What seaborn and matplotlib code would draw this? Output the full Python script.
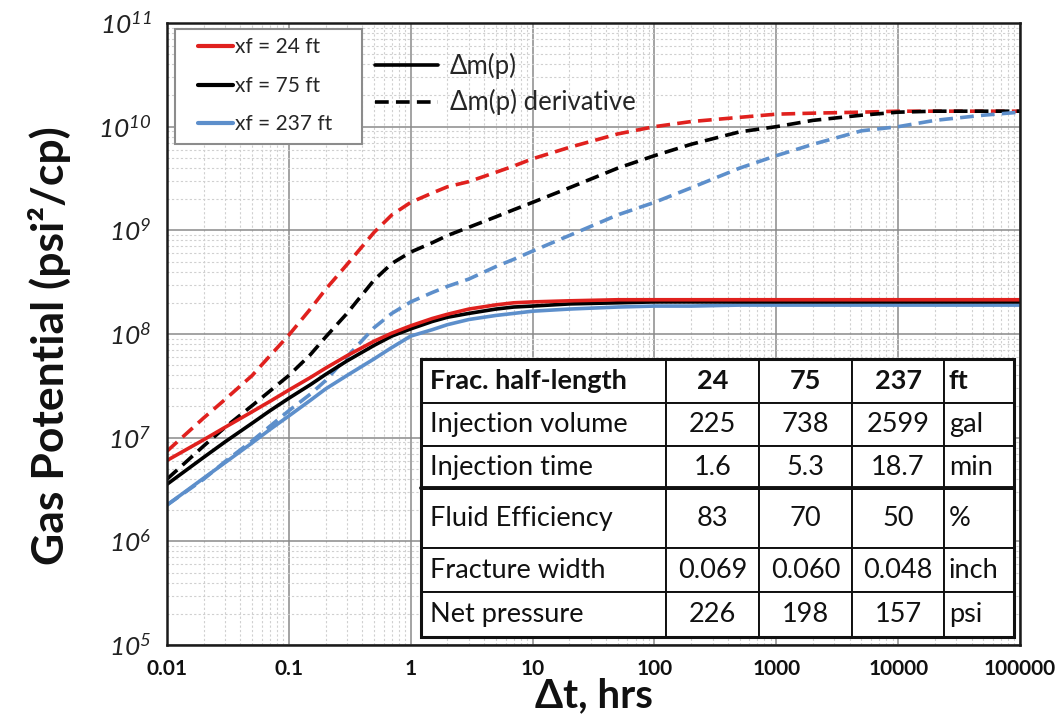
import numpy as np
import pandas as pd
import matplotlib
matplotlib.use("Agg")
import matplotlib.pyplot as plt
import matplotlib.ticker as mticker
from matplotlib.lines import Line2D
from matplotlib.patches import Rectangle
import seaborn as sns

# ---------------- data ----------------
dt_hrs = [0.01, 0.02, 0.03, 0.05, 0.07, 0.1, 0.15, 0.2, 0.3, 0.5, 0.7, 1, 1.5, 2, 3, 5, 7, 10,
          20, 50, 100, 200, 500, 1000, 2000, 5000, 1e4, 2e4, 5e4, 1e5]

mp_xf24 = [6.03e6, 9.55e6, 1.26e7, 1.78e7, 2.24e7, 2.88e7, 3.80e7, 4.68e7, 6.17e7, 8.51e7,
           1.02e8, 1.20e8, 1.41e8, 1.55e8, 1.74e8, 1.91e8, 2.00e8, 2.04e8, 2.09e8, 2.14e8,
           2.14e8, 2.14e8, 2.14e8, 2.14e8, 2.14e8, 2.14e8, 2.14e8, 2.14e8, 2.14e8, 2.14e8]
mp_xf75 = [3.55e6, 6.46e6, 9.12e6, 1.38e7, 1.82e7, 2.40e7, 3.24e7, 4.07e7, 5.50e7, 7.76e7,
           9.55e7, 1.12e8, 1.32e8, 1.45e8, 1.58e8, 1.74e8, 1.82e8, 1.86e8, 1.95e8, 2.00e8,
           2.04e8, 2.04e8, 2.04e8, 2.04e8, 2.04e8, 2.04e8, 2.04e8, 2.04e8, 2.04e8, 2.04e8]
mp_xf237 = [2.24e6, 4.07e6, 5.75e6, 8.91e6, 1.20e7, 1.62e7, 2.29e7, 2.95e7, 3.98e7, 5.75e7,
            7.41e7, 9.55e7, 1.10e8, 1.23e8, 1.38e8, 1.51e8, 1.58e8, 1.66e8, 1.74e8, 1.82e8,
            1.86e8, 1.86e8, 1.90e8, 1.90e8, 1.90e8, 1.90e8, 1.90e8, 1.90e8, 1.90e8, 1.90e8]

der_xf24 = [7.41e6, 1.55e7, 2.34e7, 3.98e7, 6.17e7, 9.77e7, 1.74e8, 2.69e8, 4.68e8, 9.55e8,
            1.41e9, 1.86e9, 2.29e9, 2.63e9, 2.95e9, 3.63e9, 4.17e9, 4.90e9, 6.31e9, 8.51e9,
            1.00e10, 1.12e10, 1.23e10, 1.32e10, 1.35e10, 1.38e10, 1.41e10, 1.41e10, 1.41e10, 1.41e10]
der_xf75 = [3.98e6, 8.32e6, 1.26e7, 2.04e7, 2.82e7, 3.98e7, 6.31e7, 9.33e7, 1.58e8, 3.31e8,
            4.79e8, 6.17e8, 7.59e8, 8.91e8, 1.07e9, 1.35e9, 1.58e9, 1.86e9, 2.57e9, 3.98e9,
            5.25e9, 6.76e9, 8.91e9, 1.00e10, 1.15e10, 1.29e10, 1.38e10, 1.41e10, 1.41e10, 1.41e10]
der_xf237 = [2.24e6, 3.98e6, 5.89e6, 9.33e6, 1.29e7, 1.82e7, 2.63e7, 3.55e7, 6.03e7, 1.15e8,
             1.58e8, 2.04e8, 2.51e8, 2.88e8, 3.39e8, 4.47e8, 5.25e8, 6.31e8, 8.91e8, 1.41e9,
             1.86e9, 2.57e9, 3.98e9, 5.25e9, 6.76e9, 9.12e9, 1.00e10, 1.15e10, 1.29e10, 1.38e10]

xf_labels = ["xf = 24 ft", "xf = 75 ft", "xf = 237 ft"]
kind_labels = ["\u0394m(p)", "\u0394m(p) derivative"]
colors = ["#E0211E", "#000000", "#5D8FCB"]

xtick_vals = [0.01, 0.1, 1, 10, 100, 1000, 10000, 100000]
xtick_labels = ["0.01", "0.1", "1", "10", "100", "1000", "10000", "100000"]
ytick_vals = [1e5, 1e6, 1e7, 1e8, 1e9, 1e10, 1e11]
ytick_labels = [r"$10^{5}$", r"$10^{6}$", r"$10^{7}$", r"$10^{8}$",
                r"$10^{9}$", r"$10^{10}$", r"$10^{11}$"]

table_rows = [
    ["Frac. half-length", "24", "75", "237", "ft"],
    ["Injection volume", "225", "738", "2599", "gal"],
    ["Injection time", "1.6", "5.3", "18.7", "min"],
    ["Fluid Efficiency", "83", "70", "50", "%"],
    ["Fracture width", "0.069", "0.060", "0.048", "inch"],
    ["Net pressure", "226", "198", "157", "psi"],
]

x_label = "\u0394t, hrs"
y_label = "Gas Potential (psi\u00b2/cp)"

# ---------------- long table ----------------
frames = []
for lab, sol, der in zip(xf_labels, [mp_xf24, mp_xf75, mp_xf237], [der_xf24, der_xf75, der_xf237]):
    frames.append(pd.DataFrame({"dt": dt_hrs, "gp": sol, "xf": lab, "kind": kind_labels[0]}))
    frames.append(pd.DataFrame({"dt": dt_hrs, "gp": der, "xf": lab, "kind": kind_labels[1]}))
df = pd.concat(frames, ignore_index=True)

# ---------------- style ----------------
sns.set_theme(style="white")
plt.rcParams["font.family"] = ["Lato", "DejaVu Sans"]
plt.rcParams["mathtext.fontset"] = "custom"
plt.rcParams["mathtext.rm"] = "Lato:italic"
plt.rcParams["mathtext.it"] = "Lato:italic"

W, H = 1058, 725
fig = plt.figure(figsize=(W / 100, H / 100), dpi=100)
fig.patch.set_facecolor("white")
ax = fig.add_axes([167 / W, 80 / H, 853 / W, 622 / H])
ax.set_xscale("log")
ax.set_yscale("log")

palette = dict(zip(xf_labels, colors))
dash_map = {kind_labels[0]: "", kind_labels[1]: (3.8, 2.0)}

# dashed first, solids on top
sns.lineplot(data=df[df["kind"] == kind_labels[1]], x="dt", y="gp", hue="xf", style="kind",
             hue_order=xf_labels, palette=palette, dashes=dash_map, estimator=None, sort=False,
             lw=2.6, legend=False, ax=ax)
sns.lineplot(data=df[df["kind"] == kind_labels[0]].iloc[::-1], x="dt", y="gp", hue="xf", style="kind",
             hue_order=xf_labels[::-1], palette=palette, dashes=dash_map, estimator=None, sort=False,
             lw=2.6, legend=False, ax=ax)

ax.set_xlim(1e-2, 1e5)
ax.set_ylim(1e5, 1e11)

# grid
ax.set_axisbelow(True)
ax.xaxis.set_minor_locator(mticker.LogLocator(base=10, subs=np.arange(2, 10), numticks=100))
ax.yaxis.set_minor_locator(mticker.LogLocator(base=10, subs=np.arange(2, 10), numticks=100))
ax.grid(which="major", color="#8a8a8a", lw=1.1)
ax.grid(which="minor", color="#d0d0d0", lw=0.8, ls=(0, (2, 2)))

ax.set_xticks(xtick_vals)
ax.set_xticklabels(xtick_labels, fontsize=15, fontweight="bold", color="#111111")
ax.set_yticks(ytick_vals)
ax.set_yticklabels(ytick_labels, fontsize=19, color="#222222")
ax.tick_params(which="major", direction="out", length=6, width=1.3, color="black")
ax.tick_params(axis="x", which="major", pad=4)
ax.tick_params(axis="y", which="major", pad=5)
ax.tick_params(which="minor", length=0)

for s in ax.spines.values():
    s.set_visible(True)
    s.set_color("#1a1a1a")
    s.set_linewidth(1.8)

ax.set_xlabel(x_label, fontsize=29, fontweight="bold", color="#111111")
ax.set_ylabel(y_label, fontsize=32, fontweight="bold", color="#111111")
ax.xaxis.set_label_coords(0.5, -0.052)
ax.yaxis.set_label_coords(-0.113, 0.482)

# ---------------- legends ----------------
box = Rectangle((0.0094, 0.8055), 0.2192, 0.1849, transform=ax.transAxes,
                facecolor="white", edgecolor="#8c8c8c", lw=1.5, zorder=4)
ax.add_patch(box)
h1 = [Line2D([], [], color=c, lw=3) for c in colors]
leg1 = ax.legend(h1, xf_labels, loc="upper left", bbox_to_anchor=(0.0363, 0.977),
                 frameon=False, fontsize=15, handlelength=1.68, handletextpad=0.1,
                 labelspacing=0.89, borderpad=0, borderaxespad=0, labelcolor="#262626")
leg1.set_zorder(5)
ax.add_artist(leg1)

h2 = [Line2D([], [], color="black", lw=2.6),
      Line2D([], [], color="black", lw=2.6, dashes=(3.8, 2.0))]
leg2 = ax.legend(h2, kind_labels, loc="upper left", bbox_to_anchor=(0.2438, 0.9526),
                 frameon=False, fontsize=18.5, handlelength=2.45, handletextpad=0.47,
                 labelspacing=0.42, borderpad=0, borderaxespad=0, labelcolor="#262626")
leg2.set_zorder(5)

# ---------------- table ----------------
col_px = [245, 93, 93, 92, 70]
row_px = [44, 43, 43, 59, 44, 45]
tx0, ty0 = (421 - 167) / 853, 1 - (637 - 23) / 622
tw, th = sum(col_px) / 853, sum(row_px) / 622
tbl = ax.table(cellText=table_rows, cellLoc="center", bbox=[tx0, ty0, tw, th], zorder=6)
tbl.auto_set_font_size(False)
for (r, c), cell in tbl.get_celld().items():
    cell.set_width(col_px[c])
    cell.set_height(row_px[r])
    cell.set_edgecolor("#111111")
    cell.set_linewidth(1.4)
    cell.set_facecolor("white")
    t = cell.get_text()
    t.set_fontsize(19.5)
    t.set_color("#111111")
    if r == 0:
        t.set_fontweight("bold")
    if c == 0:
        t.set_ha("left")
        cell.PAD = 0.035
    elif c == 4:
        t.set_ha("left")
        cell.PAD = 0.07

# outer border and thick separator
ax.add_patch(Rectangle((tx0, ty0), tw, th, transform=ax.transAxes, fill=False,
                       edgecolor="#111111", lw=2.2, zorder=7))
ysep = 1 - (358 + 44 + 43 + 43 - 23) / 622
ax.plot([tx0, tx0 + tw], [ysep, ysep], transform=ax.transAxes, color="#111111",
        lw=2.8, zorder=7, clip_on=False)

fig.savefig("out.png", dpi=100, facecolor="white")
